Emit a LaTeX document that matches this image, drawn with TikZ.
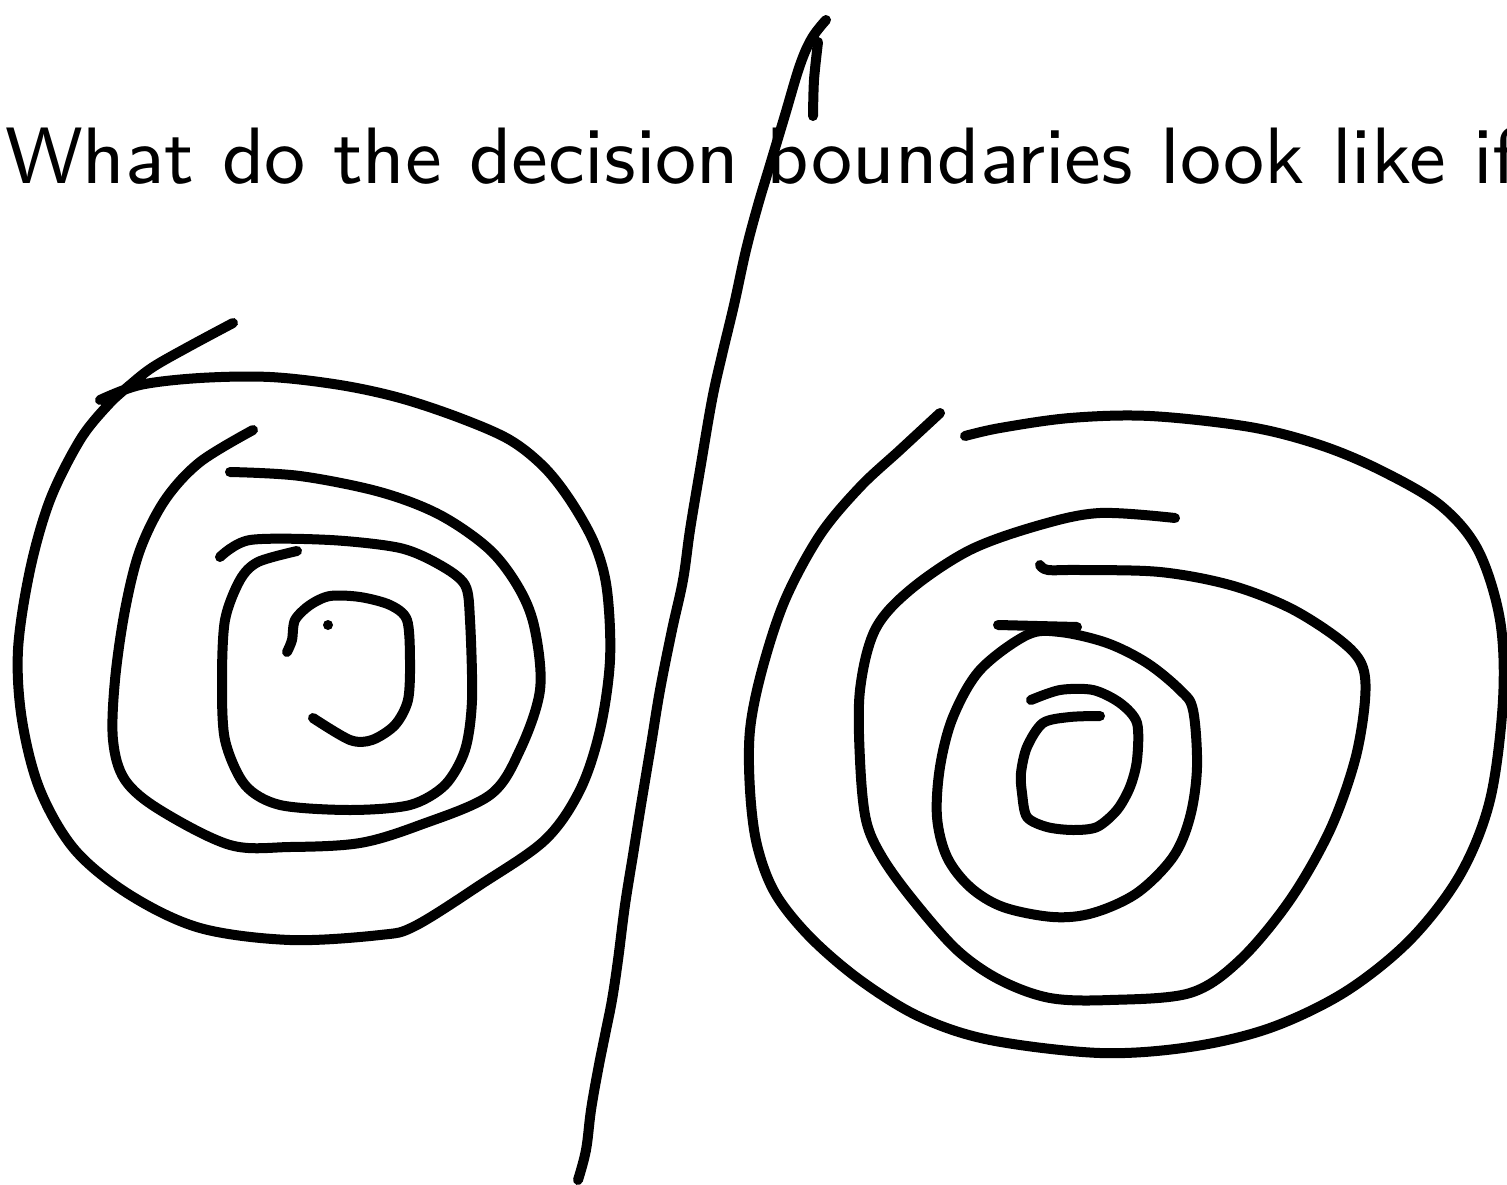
\documentclass[tikz,border=0pt]{standalone}
\usepackage{fontspec}
\newfontfamily\titlefont{lmsans9-regular.otf}
\begin{document}
\begin{tikzpicture}[x=1pt,y=-1pt,
  ink/.style={line width=10pt,line cap=round,line join=round,black},
  title/.style={font=\titlefont\fontsize{80}{90}\selectfont,anchor=base west,inner sep=0pt}]
\useasboundingbox (0,0) rectangle (1507,1185);
\clip (0,0) rectangle (1507,1185);
\node[title] (t) at (5,184) {What do the decision boundaries look like if};
% decision boundary
\draw[ink] plot[smooth,tension=0.6] coordinates {(578,1180) (586,1150) (591,1110) (598,1070) (605,1035) (612,1000) (618,960) (625,905) (633,855) (641,805) (651,745) (660,690) (672,630) (683,580) (690,530) (700,470) (712,400) (722,355) (734,305) (746,250) (758,205) (770,165) (785,115) (800,65) (812,38) (826,20)};
\draw[ink] plot[smooth] coordinates {(818,42) (814,80) (813,116)};
% left spiral
\draw[ink] plot[smooth,tension=0.55] coordinates {(233,323) (190,346) (153,367) (130,385) (108,405) (80,440) (50,500) (30,570) (18,650) (22,720) (40,790) (75,850) (130,895) (200,928) (290,940) (380,935) (415,926) (480,885) (545,840) (580,790) (600,730) (610,660) (607,590) (595,545) (572,503) (545,468) (510,440) (460,418) (400,398) (340,385) (270,377) (200,378) (140,385) (100,400)};
\draw[ink] plot[smooth,tension=0.55] coordinates {(253,430) (200,462) (165,500) (140,550) (125,610) (115,680) (113,740) (125,780) (160,810) (230,845) (290,847) (360,843) (420,825) (490,795) (520,750) (540,690) (535,630) (520,590) (490,550) (440,515) (380,492) (300,476) (230,472)};
\draw[ink] plot[smooth,tension=0.5] coordinates {(220,557) (250,540) (330,540) (400,548) (440,565) (465,585) (470,620) (472,700) (465,750) (445,785) (410,805) (350,810) (280,805) (245,785) (225,740) (222,680) (225,620) (240,580) (258,562) (297,551)};
\draw[ink] plot[smooth,tension=0.5] coordinates {(287,652) (292,640) (295,620) (310,605) (330,596) (360,597) (390,605) (407,620) (410,660) (408,700) (395,725) (372,740) (350,740) (313,718)};
\fill (328,625) circle (5pt);
% right spiral
\draw[ink] plot[smooth,tension=0.55] coordinates {(940,413) (900,450) (860,487) (820,535) (785,600) (762,670) (750,730) (750,790) (757,845) (775,893) (810,937) (860,980) (920,1017) (990,1040) (1100,1053) (1190,1047) (1270,1028) (1345,992) (1410,940) (1460,875) (1490,800) (1503,700) (1500,620) (1478,550) (1440,505) (1380,470) (1320,445) (1250,427) (1150,416) (1070,418) (1000,428) (965,436)};
\draw[ink] plot[smooth,tension=0.55] coordinates {(1175,518) (1100,513) (1040,525) (970,550) (910,590) (875,630) (860,690) (860,760) (866,820) (882,857) (913,900) (957,950) (1000,980) (1050,998) (1110,1000) (1190,993) (1240,960) (1290,900) (1330,830) (1355,760) (1365,700) (1362,665) (1340,640) (1290,608) (1230,585) (1160,572) (1080,570) (1048,570) (1040,565)};
\draw[ink] (998,625) -- (1077,627);
\draw[ink] plot[smooth cycle,tension=0.55] coordinates {(1027,635) (980,670) (953,717) (940,767) (937,817) (947,857) (970,887) (1003,907) (1053,917) (1093,913) (1137,893) (1173,857) (1190,817) (1197,767) (1193,710) (1180,690) (1147,663) (1107,643) (1060,632)};
\draw[ink] plot[smooth,tension=0.5] coordinates {(1031,700) (1060,690) (1093,690) (1120,703) (1137,723) (1137,760) (1130,787) (1117,810) (1097,827) (1073,830) (1047,827) (1027,817) (1022,793) (1021,773) (1027,747) (1043,723) (1070,717) (1100,716)};
\end{tikzpicture}
\end{document}
